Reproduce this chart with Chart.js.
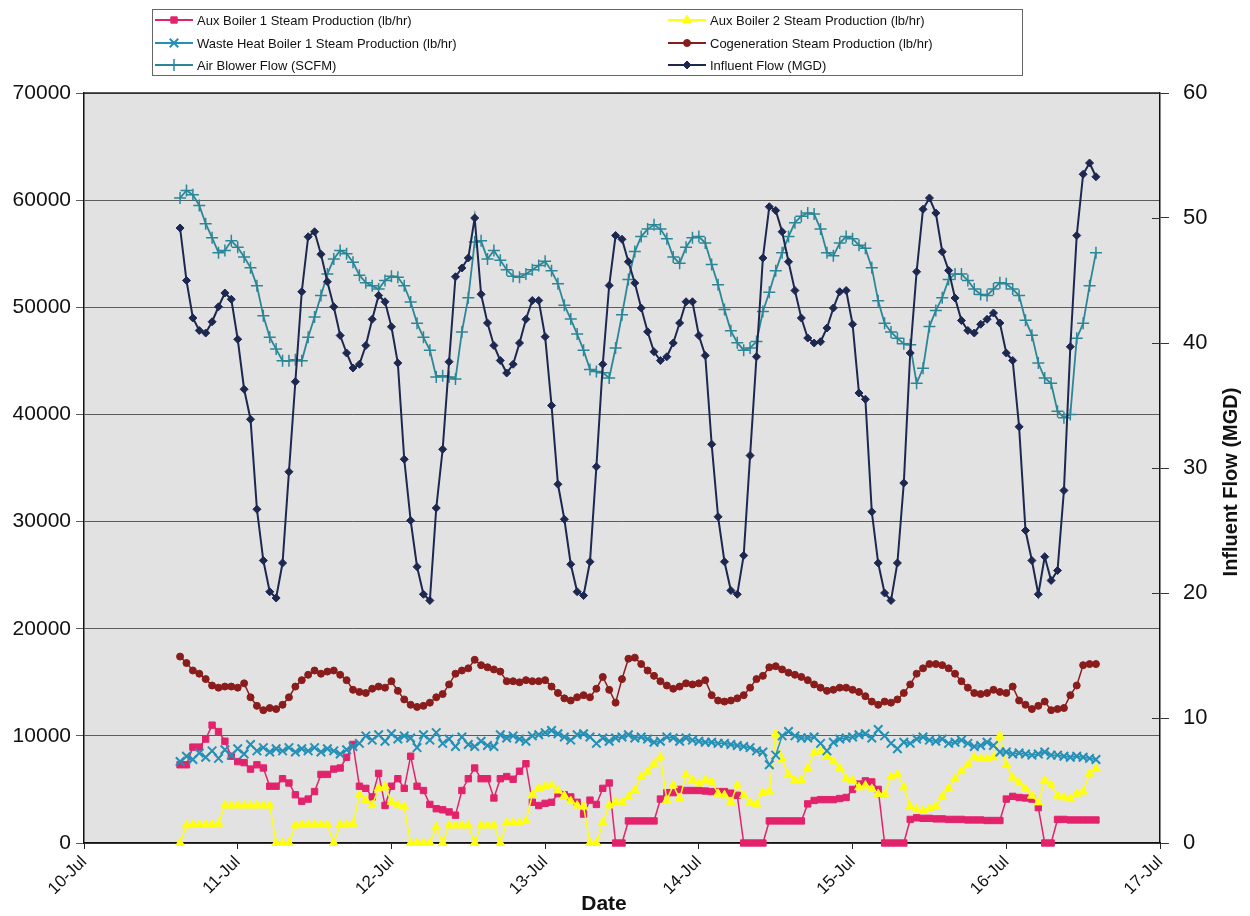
<!DOCTYPE html>
<html>
<head>
<meta charset="utf-8">
<script src="https://cdn.jsdelivr.net/npm/chart.js@4.4.0/dist/chart.umd.min.js"></script>
<style>
html,body{margin:0;padding:0;background:#ffffff;}
#wrap{width:1250px;height:916px;position:relative;}
</style>
</head>
<body>
<div id="wrap"><canvas id="c" width="1250" height="916"></canvas></div>
<script>
// x axis: hours since 10-Jul 00:00; hourly readings from 10-Jul 15:00
const tickLabels = ['10-Jul','11-Jul','12-Jul','13-Jul','14-Jul','15-Jul','16-Jul','17-Jul'];
const startHour = 15;

const seriesNames = [
  'Aux Boiler 1 Steam Production (lb/hr)',
  'Aux Boiler 2 Steam Production (lb/hr)',
  'Waste Heat Boiler 1 Steam Production (lb/hr)',
  'Cogeneration Steam Production (lb/hr)',
  'Air Blower Flow (SCFM)',
  'Influent Flow (MGD)'
];

const aux1 = [
 7300,7300,8950,8950,9700,11000,10400,9500,8100,7600,
 7500,6900,7300,7000,5300,5300,6000,5600,4500,3900,
 4100,4800,6400,6400,6900,7000,8000,9200,5300,5100,
 4300,6500,3500,5300,6000,5100,8100,5300,4900,3600,
 3200,3100,2900,2600,4900,6000,7000,6000,6000,4200,
 6000,6200,5950,6700,7400,3800,3500,3700,3800,4600,
 4500,4300,3800,2700,4000,3600,5100,5600,0,0,
 2060,2060,2060,2060,2060,4100,4700,4700,5000,4900,
 4900,4900,4850,4800,4800,4800,4650,4450,0,0,
 0,0,2060,2060,2060,2060,2060,2060,3650,3970,
 4050,4050,4050,4150,4250,5000,5500,5800,5700,5000,
 0,0,0,0,2200,2350,2300,2300,2250,2250,
 2200,2200,2200,2150,2150,2150,2100,2100,2100,4100,
 4350,4250,4200,4100,3300,0,0,2200,2200,2150,
 2150,2150,2150,2150
];

const aux2 = [
 0,1640,1700,1700,1700,1700,1800,3500,3500,3500,
 3500,3500,3500,3500,3500,0,0,0,1640,1700,
 1700,1700,1700,1700,0,1700,1700,1800,4480,4000,
 3530,5110,5270,3850,3530,3380,0,0,0,0,
 1480,0,1640,1640,1640,1640,0,1640,1640,1640,
 0,1900,1900,1900,2060,4500,5140,5300,5400,4900,
 4400,3900,3500,3400,0,0,1900,3500,3810,3810,
 4290,4920,6200,6670,7400,8000,4000,5400,4130,6350,
 5870,5560,5870,5720,4600,4450,3810,5400,4450,3810,
 3650,4760,4800,10200,7800,6350,5870,5870,6990,8410,
 8570,8100,7620,7000,6000,5850,5200,5360,5050,4570,
 4570,6150,6400,5200,3400,3150,3000,3200,3450,4300,
 5100,6000,6700,7300,8000,7900,7850,8000,10000,7300,
 6100,5600,5050,4420,3790,5840,5400,4420,4260,4100,
 4600,4800,6470,6940
];

const wasteHeat = [
 7600,8100,7800,8400,8000,8600,7900,8700,8200,8800,
 8300,9200,8600,8900,8500,8800,8600,8900,8500,8800,
 8600,8900,8500,8800,8600,8300,8700,9000,9300,10000,
 9600,10100,9500,10200,9700,10000,9800,8900,10100,9600,
 10300,9300,9700,9000,9900,9200,9000,9500,9100,9000,
 10100,9800,10000,9700,9500,10000,10100,10300,10500,10200,
 9900,9600,10100,10200,9900,9300,9800,9500,9800,9900,
 10100,9800,9900,9700,9400,9500,9900,9800,9500,9800,
 9600,9500,9400,9400,9300,9300,9200,9100,9000,8900,
 8600,8500,7300,8200,10000,10400,10000,9800,9800,9900,
 9300,8600,9400,9700,9800,9900,10100,10200,9800,10600,
 10000,9300,8800,9400,9300,9700,9900,9600,9500,9700,
 9300,9400,9600,9300,9000,9100,9400,9100,8500,8500,
 8300,8400,8300,8200,8300,8500,8200,8200,8100,8000,
 8100,8000,7900,7800
];

const cogen = [
 17400,16800,16100,15800,15300,14700,14500,14600,14600,14500,
 14900,13600,12800,12400,12600,12500,12900,13600,14600,15200,
 15700,16100,15800,16000,16100,15700,15200,14300,14100,14000,
 14400,14600,14500,15100,14200,13400,12900,12700,12800,13100,
 13600,13900,14800,15800,16100,16300,17100,16600,16400,16200,
 16000,15100,15100,15000,15200,15100,15100,15200,14600,14000,
 13500,13300,13600,13800,13600,14400,15500,14300,13100,15300,
 17200,17300,16700,16100,15600,15100,14700,14400,14600,14900,
 14800,14900,15200,13800,13300,13200,13300,13500,13800,14500,
 15300,15600,16400,16500,16200,15900,15700,15500,15200,14800,
 14500,14200,14300,14500,14500,14300,14100,13700,13200,12900,
 13200,13100,13400,14000,14800,15800,16300,16700,16700,16600,
 16300,15800,15100,14500,14000,13900,14000,14300,14100,14000,
 14600,13300,12900,12500,12800,13200,12400,12500,12600,13800,
 14700,16600,16700,16700
];

const airBlower = [
 60200,60900,60500,59500,57800,56500,55100,55300,56200,55600,
 54700,53700,52000,49200,47200,46100,45000,45000,45100,45000,
 47200,49100,51100,53100,54500,55300,55000,54200,53000,52300,
 52000,51700,52500,52900,52800,52000,50500,48500,47200,46000,
 43500,43600,43500,43300,47700,50900,56100,56200,54500,55300,
 54400,53500,52900,52800,53100,53500,53900,54300,53400,52200,
 50200,48900,47500,46000,44200,44000,43900,43400,46200,49300,
 52600,55200,56600,57300,57700,57300,56400,54700,54100,55600,
 56500,56600,56000,54000,52100,49800,47800,46700,46000,46200,
 46800,49600,51400,53400,55100,56600,57900,58500,58800,58700,
 57300,55100,54800,56000,56600,56400,55800,55500,53700,50600,
 48500,47700,47100,46600,46500,42900,44300,48200,49700,50900,
 52600,53100,53100,52500,51700,51200,51100,51700,52300,52200,
 51700,51100,48800,47400,44800,43400,42900,40300,39700,40000,
 47100,48500,52000,55100
];

const influent = [
 49.2,45.0,42.0,41.0,40.8,41.7,42.9,44.0,43.5,40.3,
 36.3,33.9,26.7,22.6,20.1,19.6,22.4,29.7,36.9,44.1,
 48.5,48.9,47.1,44.9,42.9,40.6,39.2,38.0,38.3,39.8,
 41.9,43.8,43.3,41.3,38.4,30.7,25.8,22.1,19.9,19.4,
 26.8,31.5,38.5,45.3,46.0,46.8,50.0,43.9,41.6,39.8,
 38.6,37.6,38.3,40.0,41.9,43.4,43.4,40.5,35.0,28.7,
 25.9,22.3,20.1,19.8,22.5,30.1,38.3,44.6,48.6,48.3,
 46.5,44.8,42.8,40.9,39.3,38.6,38.9,40.0,41.6,43.3,
 43.3,40.6,39.0,31.9,26.1,22.5,20.2,19.9,23.0,31.0,
 38.9,46.8,50.9,50.6,48.9,46.5,44.2,42.0,40.4,40.0,
 40.1,41.2,42.8,44.1,44.2,41.5,36.0,35.5,26.5,22.4,
 20.0,19.4,22.4,28.8,39.2,45.7,50.7,51.6,50.4,47.3,
 45.8,43.6,41.8,41.0,40.8,41.5,41.9,42.4,41.6,39.2,
 38.6,33.3,25.0,22.6,19.9,22.9,21.0,21.8,28.2,39.7,
 48.6,53.5,54.4,53.3
];

const FONT = '"Liberation Sans", Arial, Helvetica, sans-serif';
Chart.defaults.font.family = FONT;
Chart.defaults.color = '#111';

function toPoints(arr){ return arr.map((v,i)=>({x: startHour + i, y: v})); }

function ds(label, arr, color, style, radius, order, axis, lw, pbw){
  return {
    label: label, data: toPoints(arr), yAxisID: axis || 'y',
    borderColor: color, backgroundColor: color,
    pointBackgroundColor: color, pointBorderColor: color,
    pointStyle: style, pointRadius: radius, pointBorderWidth: pbw || 1,
    borderWidth: lw || 1.5, tension: 0, order: order, clip: false
  };
}

const datasets = [
  ds(seriesNames[0], aux1, '#E2236C', 'rect', 4.5, 5),
  ds(seriesNames[1], aux2, '#FFFF12', 'triangle', 5, 4),
  ds(seriesNames[2], wasteHeat, '#2590B6', 'crossRot', 6, 3, 'y', 1.5, 2),
  ds(seriesNames[3], cogen, '#8A1C1C', 'circle', 3.5, 2),
  ds(seriesNames[4], airBlower, '#2B8797', 'cross', 6, 1, 'y', 1.8, 1.5),
  ds(seriesNames[5], influent, '#1C2850', 'rectRot', 4, 0, 'y2', 2)
];

const decorPlugin = {
  id: 'decor',
  beforeDraw(chart){
    const a = chart.chartArea, ctx = chart.ctx;
    ctx.save();
    ctx.fillStyle = '#ffffff';
    ctx.fillRect(0,0,chart.width,chart.height);
    ctx.fillStyle = '#e2e2e2';
    ctx.fillRect(a.left, a.top, a.right - a.left, a.bottom - a.top);
    ctx.restore();
  },
  afterDraw(chart){
    const a = chart.chartArea, ctx = chart.ctx;
    ctx.save();
    // top border of plot
    ctx.strokeStyle = '#222'; ctx.lineWidth = 1.5;
    ctx.beginPath(); ctx.moveTo(a.left, a.top); ctx.lineTo(a.right, a.top); ctx.stroke();
    // inner halves of the right-axis tick marks (they cross the axis)
    const y2 = chart.scales.y2;
    ctx.strokeStyle = '#333'; ctx.lineWidth = 1;
    y2.ticks.forEach(t => {
      const py = Math.round(y2.getPixelForValue(t.value)) + 0.5;
      ctx.beginPath(); ctx.moveTo(a.right - 8, py); ctx.lineTo(a.right, py); ctx.stroke();
    });
    // axis titles
    ctx.fillStyle = '#111';
    ctx.font = 'bold 21px ' + FONT;
    ctx.textAlign = 'center'; ctx.textBaseline = 'middle';
    ctx.fillText('Date', 604, 904);
    ctx.translate(1231, 482);
    ctx.rotate(-Math.PI/2);
    ctx.font = 'bold 20px ' + FONT;
    ctx.fillText('Influent Flow (MGD)', 0, 0);
    ctx.restore();

    // legend box
    ctx.save();
    ctx.strokeStyle = '#666'; ctx.lineWidth = 1;
    ctx.strokeRect(152.5, 9.5, 870, 66);
    const cols = [155, 668];
    const rows = [20, 43, 65];
    chart.data.datasets.forEach((d, k) => {
      const lx = cols[k % 2], ly = rows[Math.floor(k / 2)];
      ctx.strokeStyle = d.borderColor; ctx.lineWidth = 2;
      ctx.beginPath(); ctx.moveTo(lx, ly); ctx.lineTo(lx + 38, ly); ctx.stroke();
      ctx.fillStyle = d.pointBackgroundColor; ctx.strokeStyle = d.pointBorderColor;
      ctx.lineWidth = d.pointBorderWidth;
      Chart.helpers.drawPoint(ctx, {pointStyle: d.pointStyle, radius: d.pointRadius, rotation: 0, borderWidth: d.pointBorderWidth}, lx + 19, ly);
      ctx.fillStyle = '#111';
      ctx.font = '13px ' + FONT;
      ctx.textAlign = 'left'; ctx.textBaseline = 'middle';
      ctx.fillText(d.label, lx + 42, ly + 1);
    });
    ctx.restore();
  }
};

new Chart(document.getElementById('c'), {
  type: 'line',
  data: { datasets: datasets },
  options: {
    responsive: false, animation: false, devicePixelRatio: 1,
    layout: { padding: { top: 93, left: 0, right: 0, bottom: 0 } },
    plugins: { legend: { display: false }, tooltip: { enabled: false } },
    scales: {
      x: {
        type: 'linear', min: 0, max: 168,
        afterFit(s){ s.height = 73; },
        ticks: {
          stepSize: 24, autoSkip: false, minRotation: 45, maxRotation: 45,
          padding: 3, color: '#111', font: { size: 17 },
          callback: (v) => tickLabels[Math.round(v / 24)]
        },
        grid: { drawOnChartArea: false, tickLength: 6, color: '#222' },
        border: { color: '#111', width: 1.5 }
      },
      y: {
        position: 'left', min: 0, max: 70000,
        afterFit(s){ s.width = 84; },
        ticks: { stepSize: 10000, padding: 5, color: '#111', font: { size: 21 }, callback: (v) => String(v) },
        grid: { color: '#5c5c5c', lineWidth: 1, tickLength: 8 },
        border: { color: '#111', width: 1.5 }
      },
      y2: {
        position: 'right', min: 0, max: 60,
        afterFit(s){ s.width = 90; },
        ticks: { stepSize: 10, padding: 14, color: '#111', font: { size: 22 }, callback: (v) => String(v) },
        grid: { drawOnChartArea: false, tickLength: 9, color: '#333' },
        border: { color: '#111', width: 1.5 }
      }
    }
  },
  plugins: [decorPlugin]
});
</script>
</body>
</html>
